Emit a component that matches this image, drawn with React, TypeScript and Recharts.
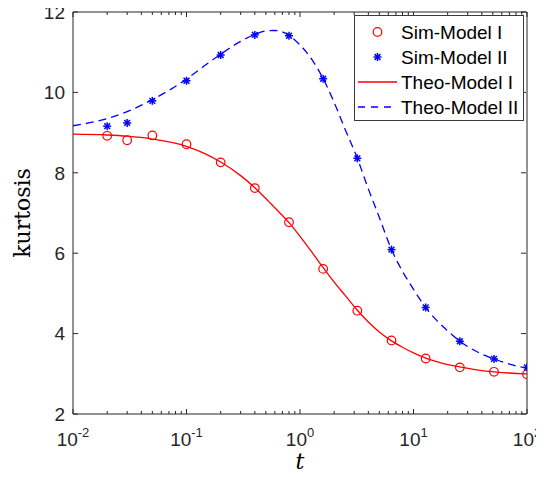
import React from "react";
import { ComposedChart, Line, Scatter, XAxis, YAxis, ReferenceLine } from "recharts";

const T_SIM = [0.02, 0.03, 0.05, 0.1, 0.2, 0.4, 0.8, 1.6, 3.2, 6.4, 12.8, 25.6, 51.2, 100];
const SIM_I = [8.92, 8.81, 8.93, 8.71, 8.26, 7.62, 6.77, 5.61, 4.57, 3.83, 3.38, 3.16, 3.05, 2.99];
const SIM_II = [9.16, 9.24, 9.79, 10.29, 10.93, 11.43, 11.41, 10.34, 8.36, 6.09, 4.65, 3.81, 3.37, 3.16];

const T_THEO = [0.01, 0.02, 0.03, 0.05, 0.1, 0.15, 0.2, 0.3, 0.4, 0.5, 0.6, 0.8, 1, 1.3, 1.6, 2, 2.5, 3.2, 4, 5, 6.4, 8, 10, 12.8, 16, 20, 25.6, 32, 40, 51.2, 70, 100];
const THEO_I = [8.96, 8.94, 8.91, 8.84, 8.66, 8.46, 8.27, 7.93, 7.63, 7.36, 7.13, 6.76, 6.42, 5.99, 5.64, 5.28, 4.95, 4.58, 4.29, 4.04, 3.82, 3.66, 3.52, 3.39, 3.3, 3.23, 3.17, 3.12, 3.08, 3.05, 3.02, 3.0];
const THEO_II = [9.17, 9.35, 9.52, 9.82, 10.33, 10.7, 10.95, 11.27, 11.44, 11.53, 11.54, 11.42, 11.18, 10.78, 10.34, 9.75, 9.08, 8.36, 7.6, 6.89, 6.09, 5.55, 5.1, 4.65, 4.33, 4.07, 3.81, 3.63, 3.49, 3.37, 3.24, 3.14];

const X_MIN = 0.01;
const X_MAX = 100;
const Y_MIN = 2;
const Y_MAX = 12;
const X_MAJOR = [0.01, 0.1, 1, 10, 100];
const X_EXP = ["-2", "-1", "0", "1", "2"];
const Y_TICKS = [2, 4, 6, 8, 10, 12];

const LEGEND_LABELS = ["Sim-Model I", "Sim-Model II", "Theo-Model I", "Theo-Model II"];

const X_TICKS: number[] = [];
for (let d = 0; d < X_MAJOR.length - 1; d++) {
  for (let m = 1; m < 10; m++) X_TICKS.push(+(X_MAJOR[d] * m).toPrecision(3));
}
X_TICKS.push(X_MAX);

const zip = (xs: number[], ys: number[]) => xs.map((x, i) => ({ x, y: ys[i] }));
const simI = zip(T_SIM, SIM_I);
const simII = zip(T_SIM, SIM_II);
const theoI = zip(T_THEO, THEO_I);
const theoII = zip(T_THEO, THEO_II);

const W = 544;
const H = 477;
const M = { top: 12, right: 17, bottom: 0, left: 0 };
const YAXIS_W = 73;
const XAXIS_H = 63;
const PLOT_TOP = M.top;
const PLOT_BOTTOM = H - M.bottom - XAXIS_H;
const PLOT_LEFT = M.left + YAXIS_W;
const PLOT_RIGHT = W - M.right - 1;

const RED = "#ff0000";
const BLUE = "#0000ff";
const AX = "#262626";
const FONT = "'Liberation Sans', Arial, sans-serif";

const XTick = (props: any) => {
  const { x, payload } = props;
  const v = payload.value;
  const idx = X_MAJOR.findIndex((m) => Math.abs(m - v) / m < 1e-6);
  const major = idx >= 0;
  const len = major ? 5 : 3;
  return (
    <g>
      <line x1={x} x2={x} y1={PLOT_BOTTOM} y2={PLOT_BOTTOM - len} stroke={AX} strokeWidth={1} />
      <line x1={x} x2={x} y1={PLOT_TOP} y2={PLOT_TOP + len} stroke={AX} strokeWidth={1} />
      {major && (
        <text x={x} y={PLOT_BOTTOM + 32} textAnchor="middle" fill={AX} fontFamily={FONT} fontSize={19}>
          <tspan>10</tspan>
          <tspan dy={-9} fontSize={13}>{X_EXP[idx]}</tspan>
        </text>
      )}
    </g>
  );
};

const YTick = (props: any) => {
  const { y, payload } = props;
  return (
    <g>
      <line x1={PLOT_LEFT} x2={PLOT_LEFT + 5} y1={y} y2={y} stroke={AX} strokeWidth={1} />
      <line x1={PLOT_RIGHT} x2={PLOT_RIGHT - 5} y1={y} y2={y} stroke={AX} strokeWidth={1} />
      <text x={PLOT_LEFT - 8} y={y} dy="0.36em" textAnchor="end" fill={AX} fontFamily={FONT} fontSize={19}>
        {payload.value}
      </text>
    </g>
  );
};

const CircleMark = (props: any) => {
  const { cx, cy } = props;
  if (cx == null || cy == null) return null;
  return <circle cx={cx} cy={cy} r={4.3} fill="none" stroke={RED} strokeWidth={1.2} />;
};

const StarMark = (props: any) => {
  const { cx, cy } = props;
  if (cx == null || cy == null) return null;
  const r = 4;
  const d = r * 0.72;
  return (
    <g stroke={BLUE} strokeWidth={1.5}>
      <line x1={cx - r} x2={cx + r} y1={cy} y2={cy} />
      <line x1={cx} x2={cx} y1={cy - r} y2={cy + r} />
      <line x1={cx - d} x2={cx + d} y1={cy - d} y2={cy + d} />
      <line x1={cx - d} x2={cx + d} y1={cy + d} y2={cy - d} />
    </g>
  );
};

const Legend = () => {
  const rowY = [17, 42, 67, 92];
  return (
    <svg width={170} height={106} style={{ position: "absolute", left: 354, top: 15 }}>
      <rect x={0.5} y={0.5} width={169} height={105} fill="#fff" stroke="#3a3a3a" strokeWidth={1} />
      <circle cx={23.5} cy={rowY[0]} r={4.3} fill="none" stroke={RED} strokeWidth={1.2} />
      <StarMark cx={23.5} cy={rowY[1]} />
      <line x1={4} x2={43} y1={rowY[2]} y2={rowY[2]} stroke={RED} strokeWidth={1.3} />
      <line x1={4} x2={43} y1={rowY[3]} y2={rowY[3]} stroke={BLUE} strokeWidth={1.3} strokeDasharray="7 6" />
      {LEGEND_LABELS.map((t, i) => (
        <text key={t} x={47} y={rowY[i]} dy="0.36em" fontFamily={FONT} fontSize={19} fill="#000">
          {t}
        </text>
      ))}
    </svg>
  );
};

export default function App() {
  return (
    <div style={{ position: "relative", width: W, height: H, margin: -8 }}>
      <ComposedChart width={W} height={H} margin={M}>
        <XAxis
          dataKey="x"
          type="number"
          scale="log"
          domain={[X_MIN, X_MAX]}
          allowDataOverflow
          ticks={X_TICKS}
          interval={0}
          tick={<XTick />}
          tickLine={false}
          axisLine={{ stroke: AX, strokeWidth: 1 }}
          height={XAXIS_H}
          label={{
            content: (p: any) => {
              const vb = p.viewBox || {};
              const cx = (vb.x ?? PLOT_LEFT) + (vb.width ?? PLOT_RIGHT - PLOT_LEFT) / 2;
              return (
                <text x={cx} y={PLOT_BOTTOM + 55} textAnchor="middle" fontFamily="'DejaVu Serif', serif" fontStyle="italic" fontSize={22} fill="#000">
                  t
                </text>
              );
            },
          }}
        />
        <YAxis
          type="number"
          domain={[Y_MIN, Y_MAX]}
          ticks={Y_TICKS}
          interval={0}
          tick={<YTick />}
          tickLine={false}
          axisLine={{ stroke: AX, strokeWidth: 1 }}
          width={YAXIS_W}
          allowDataOverflow
          label={{
            content: (p: any) => {
              const vb = p.viewBox || {};
              const cy = (vb.y ?? PLOT_TOP) + (vb.height ?? PLOT_BOTTOM - PLOT_TOP) / 2;
              return (
                <text x={30} y={cy} transform={`rotate(-90 30 ${cy})`} textAnchor="middle" fontFamily="'DejaVu Serif', serif" fontSize={22} fill="#000">
                  kurtosis
                </text>
              );
            },
          }}
        />
        <ReferenceLine y={Y_MAX} stroke={AX} strokeWidth={1} ifOverflow="visible" />
        <ReferenceLine x={X_MAX} stroke={AX} strokeWidth={1} ifOverflow="visible" />
        <Line data={theoI} dataKey="y" type="monotone" stroke={RED} strokeWidth={1.3} dot={false} isAnimationActive={false} />
        <Line data={theoII} dataKey="y" type="monotone" stroke={BLUE} strokeWidth={1.3} strokeDasharray="8 5" dot={false} isAnimationActive={false} />
        <Scatter data={simI} dataKey="y" shape={<CircleMark />} isAnimationActive={false} />
        <Scatter data={simII} dataKey="y" shape={<StarMark />} isAnimationActive={false} />
      </ComposedChart>
      <Legend />
    </div>
  );
}
